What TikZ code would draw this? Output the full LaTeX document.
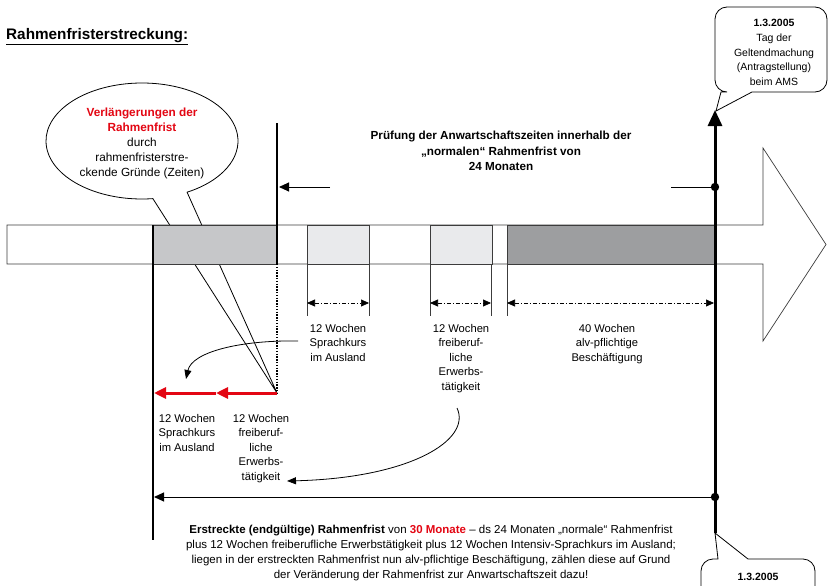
\documentclass[tikz,border=0pt]{standalone}
\usepackage{fontspec}
\setmainfont{Liberation Sans}
\usetikzlibrary{arrows.meta}
\definecolor{myred}{RGB}{227,6,19}
\definecolor{gLight}{RGB}{198,199,201}
\definecolor{gPale}{RGB}{233,234,236}
\definecolor{gDark}{RGB}{157,158,160}
\definecolor{edgecol}{RGB}{60,60,60}
\begin{document}
\begin{tikzpicture}[x=1pt,y=-1pt,
  lbl/.style={align=center,font=\fontsize{11.2}{14.5}\selectfont,inner sep=0pt},
  bublbl/.style={align=center,font=\fontsize{11.8}{15}\selectfont,inner sep=0pt},
  smalllbl/.style={align=center,font=\fontsize{10.5}{14.7}\selectfont,inner sep=0pt},
  boxline/.style={draw=edgecol,line width=0.7pt},
  tick/.style={draw=edgecol,line width=0.8pt},
  dimarr/.style={line width=0.7pt,{Triangle[width=7pt,length=8pt]}-{Triangle[width=7pt,length=8pt]},dash pattern=on 4pt off 2pt on 1pt off 2pt},
  bigtip/.style={-{Triangle[width=9pt,length=10pt]}},
  curvtip/.style={line width=0.8pt,-{Triangle[width=7pt,length=9pt]}},
  redarr/.style={myred,line width=3pt,-{Triangle[width=11pt,length=12pt]}}]
\useasboundingbox (0,0) rectangle (828,586);
\clip (0,0) rectangle (828,586);

% title
\node[anchor=west,inner sep=0pt,font=\fontsize{15.3}{17}\selectfont\bfseries] (title) at (6,36.5) {\underline{Rahmenfristerstreckung:}};

% callout ellipse (left)
\coordinate (ctip) at (277,393);
\draw[fill=white,line width=0.8pt] (142,141) ++(83.5:96 and 58) arc[start angle=83.5,end angle=422,x radius=96,y radius=58] -- (ctip) -- cycle;
\node[bublbl] (bubble) at (142,143) {\textcolor{myred}{\bfseries Verlängerungen der}\\\textcolor{myred}{\bfseries Rahmenfrist}\\durch\\rahmenfristerstre-\\ckende Gründe (Zeiten)};

% big arrow band
\draw[boxline,fill=white] (7,225) -- (763,225) -- (763,148) -- (826,244.5) -- (763,341) -- (763,264) -- (7,264) -- cycle;
\draw[boxline,fill=gLight] (153,225) rectangle (277,264);
\draw[boxline,fill=gPale] (307,225) rectangle (369,264);
\draw[boxline,fill=gPale] (430,225) rectangle (492,264);
\draw[boxline,fill=gDark] (507,225) rectangle (715,264);

% header
\node[align=center,inner sep=0pt,font=\fontsize{11.7}{15.5}\selectfont\bfseries] (head) at (501,151) {Prüfung der Anwartschaftszeiten innerhalb der\\„normalen“ Rahmenfrist von\\24 Monaten};

% thick line at 277 and dotted continuation
\coordinate (k1top) at (277,123);
\coordinate (k1bot) at (277,264);
\draw[line width=2.5pt] (k1top) -- (k1bot);
\draw[line width=1.6pt,dash pattern=on 1.4pt off 1.4pt] (k1bot) -- (ctip);

% red arrows
\coordinate (rmid) at (216,393);
\coordinate (rend) at (154,393);
\draw[redarr] (ctip) -- (rmid);
\draw[redarr] (rmid) -- (rend);

% left vertical line
\coordinate (lvtop) at (153,225);
\coordinate (lvbot) at (153,540);
\draw[line width=1.5pt] (lvtop) -- (lvbot);

% main thick vertical line
\coordinate (mbot) at (715,533);
\coordinate (mtop) at (715,110);
\draw[line width=3pt,-{Triangle[width=14pt,length=16pt]}] (mbot) -- (mtop);
\coordinate (dot1) at (715,187);
\coordinate (dot2) at (715,497);
\fill (dot1) circle (4.2);
\fill (dot2) circle (4.2);

% horizontal arrows at 187
\coordinate (h1s) at (671,187);
\draw[line width=0.9pt] (h1s) -- (dot1);
\coordinate (h2s) at (330,187);
\coordinate (h2e) at (279,187);
\draw[line width=0.9pt,bigtip] (h2s) -- (h2e);

% long bottom arrow
\coordinate (lbe) at (154,497);
\draw[line width=1pt,bigtip] (dot2) -- (lbe);

% dimension ticks
\foreach \x in {307,369,430,491,507} \draw[tick] (\x,264) -- (\x,316);
\draw[dimarr] (307,303) -- (369,303);
\draw[dimarr] (430,303) -- (491,303);
\draw[dimarr] (507,303) -- (714,303);

% labels
\node[lbl,anchor=north] (l1) at (338,324) {12 Wochen\\Sprachkurs\\im Ausland};
\node[lbl,anchor=north] (l2) at (461,324) {12 Wochen\\freiberuf-\\liche\\Erwerbs-\\tätigkeit};
\node[lbl,anchor=north] (l3) at (607,324) {40 Wochen\\alv-pflichtige\\Beschäftigung};
\node[lbl,anchor=north] (l4) at (187,414) {12 Wochen\\Sprachkurs\\im Ausland};
\node[lbl,anchor=north] (l5) at (261,414) {12 Wochen\\freiberuf-\\liche\\Erwerbs-\\tätigkeit};

% curved arrows
\coordinate (c1s) at (298,341);
\coordinate (c1e) at (186,379);
\draw[curvtip] (c1s) .. controls (240,340) and (192,352) .. (c1e);
\coordinate (c2s) at (457,408);
\coordinate (c2e) at (287,481);
\draw[curvtip] (c2s) .. controls (472,440) and (410,478) .. (c2e);

% top-right callout
\coordinate (tct) at (716,111);
\draw[fill=white,line width=0.8pt] (tct) -- (752,92) [rounded corners=12pt] -- (827,92) -- (827,7) -- (715,7) -- (715,92) [sharp corners] -- (721,92) -- cycle;
\node[smalllbl] (tc) at (774,52.5) {\bfseries 1.3.2005\\Tag der\\Geltendmachung\\(Antragstellung)\\beim AMS};

% bottom-right callout
\draw[fill=white,line width=0.8pt] (mbot) -- (748,559) [rounded corners=12pt] -- (815,559) -- (815,610) -- (701,610) -- (701,559) [sharp corners] -- (718,559) -- cycle;
\node[smalllbl] (bc) at (758,577) {\bfseries 1.3.2005};

% bottom text
\node[align=center,inner sep=0pt,font=\fontsize{11.5}{15}\selectfont] (bottom) at (431,553.5) {\textbf{Erstreckte (endgültige) Rahmenfrist} von \textcolor{myred}{\bfseries 30 Monate} – ds 24 Monaten „normale“ Rahmenfrist\\plus 12 Wochen freiberufliche Erwerbstätigkeit plus 12 Wochen Intensiv-Sprachkurs im Ausland;\\liegen in der erstreckten Rahmenfrist nun alv-pflichtige Beschäftigung, zählen diese auf Grund\\der Veränderung der Rahmenfrist zur Anwartschaftszeit dazu!};
\end{tikzpicture}
\end{document}
